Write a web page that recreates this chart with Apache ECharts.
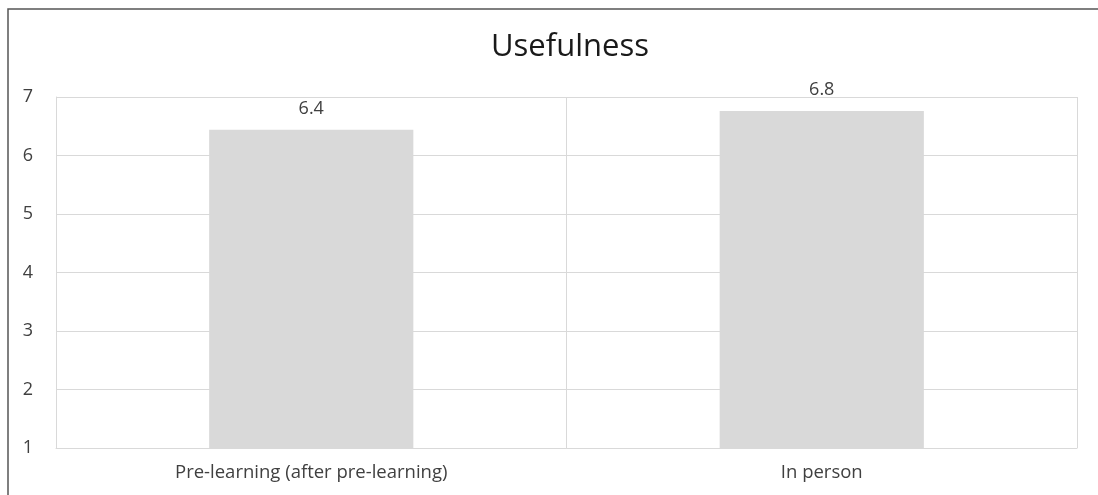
<!DOCTYPE html>
<html>
<head>
<meta charset="utf-8">
<script src="https://cdn.jsdelivr.net/npm/echarts@6/dist/echarts.min.js"></script>
<style>
  html, body { margin: 0; padding: 0; background: #fff; }
  #chart { width: 1098px; height: 495px; }
</style>
</head>
<body>
<div id="chart"></div>
<script>
const categories = ['Pre-learning (after pre-learning)', 'In person']
const usefulness = [6.44, 6.76]
const yTicks = [1, 2, 3, 4, 5, 6, 7]

const chart = echarts.init(document.getElementById('chart'))

const option = {
  animation: false,
  backgroundColor: '#fff',
  title: {
    text: 'Usefulness',
    left: 486,
    top: 27,
    textStyle: {
      fontFamily: 'Open Sans',
      fontSize: 31,
      fontWeight: 'normal',
      color: '#1a1a1a'
    }
  },
  graphic: [{
    type: 'rect',
    shape: { x: 8, y: 9, width: 1200, height: 600 },
    style: { fill: 'none', stroke: '#555', lineWidth: 1.5 },
    silent: true
  }],
  grid: { left: 56, right: 21, top: 97, bottom: 47 },
  xAxis: {
    type: 'category',
    data: categories,
    axisLine: { show: true, lineStyle: { color: '#d9d9d9', width: 1 } },
    axisTick: { show: false },
    splitLine: { show: true, lineStyle: { color: '#d9d9d9', width: 1 } },
    axisLabel: {
      fontFamily: 'Open Sans',
      fontSize: 18.5,
      color: '#404040',
      margin: 15
    }
  },
  yAxis: {
    type: 'value',
    min: yTicks[0],
    max: yTicks[yTicks.length - 1],
    interval: 1,
    axisLine: { show: true, lineStyle: { color: '#d9d9d9' } },
    axisTick: { show: false },
    splitLine: { lineStyle: { color: '#d9d9d9', width: 1 } },
    axisLabel: {
      fontFamily: 'Open Sans',
      fontSize: 18,
      color: '#404040',
      margin: 23
    }
  },
  series: [{
    type: 'bar',
    data: usefulness,
    barWidth: '40%',
    itemStyle: { color: '#d9d9d9' },
    label: {
      show: true,
      position: 'top',
      distance: 12,
      fontFamily: 'Open Sans',
      fontSize: 18,
      color: '#404040',
      formatter: p => p.value.toFixed(1)
    }
  }]
}

chart.setOption(option)
window.addEventListener('resize', function () {
  chart.resize()
})
</script>
</body>
</html>
